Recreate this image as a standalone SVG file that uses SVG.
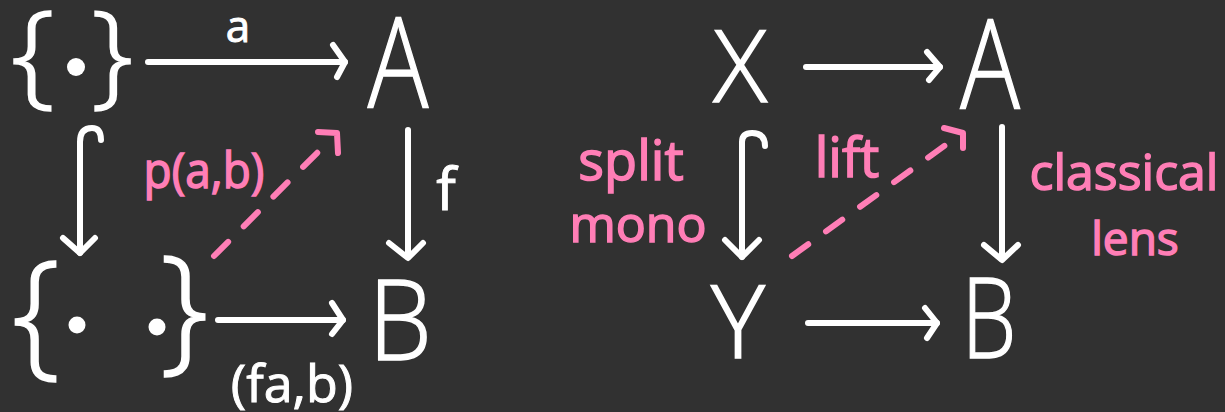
<svg xmlns="http://www.w3.org/2000/svg" width="1225" height="412" viewBox="0 0 1225 412">
<style>
.bg{fill:#313131}
.big{font-family:"Open Sans","DejaVu Sans",sans-serif;font-weight:300;fill:#ffffff;stroke:#ffffff;stroke-width:1.5;text-anchor:middle}
.lbl{font-family:"Open Sans","DejaVu Sans",sans-serif;font-weight:400;fill:#ffffff;stroke:#ffffff;stroke-width:1;text-anchor:middle}
.pk{font-family:"Open Sans","DejaVu Sans",sans-serif;font-weight:400;fill:#ff7eb6;stroke:#ff7eb6;stroke-width:1.5;text-anchor:middle}
.ln{fill:none;stroke:#ffffff;stroke-width:6;stroke-linecap:round;stroke-linejoin:round}
.dash{fill:none;stroke:#ff7eb6;stroke-width:6;stroke-linecap:round;stroke-dasharray:20 22}
.hd{fill:none;stroke:#ffffff;stroke-width:6;stroke-linecap:round;stroke-linejoin:round}
.hdp{fill:none;stroke:#ff7eb6;stroke-width:6;stroke-linecap:round;stroke-linejoin:round}
.dot{fill:#ffffff}
</style>
<rect class="bg" x="0" y="0" width="1225" height="412"/>

<g id="pt">
<text class="big" transform="translate(33,93) scale(1.1,1)" font-size="114">{</text>
<circle class="dot" cx="76" cy="67" r="9"/>
<text class="big" transform="translate(112,93) scale(1.05,1)" font-size="114">}</text>
</g>
<g id="A1"><text class="big" transform="translate(398,108) scale(0.8,1)" font-size="126">A</text></g>
<g id="two">
<text class="big" transform="translate(36,360)" font-size="138">{</text>
<circle class="dot" cx="77" cy="325" r="8.5"/>
<circle class="dot" cx="157" cy="327" r="8.5"/>
<text class="big" transform="translate(184,355)" font-size="138">}</text>
</g>
<g id="B1"><text class="big" transform="translate(400,360) scale(0.9,1)" font-size="112">B</text></g>

<g id="X"><text class="big" transform="translate(740,102)" font-size="100">X</text></g>
<g id="A2"><text class="big" transform="translate(990,108) scale(0.8,1)" font-size="124">A</text></g>
<g id="Y"><text class="big" transform="translate(738,358)" font-size="102">Y</text></g>
<g id="B2"><text class="big" transform="translate(989,358) scale(0.78,1)" font-size="112">B</text></g>

<g id="connectors">
<path class="ln" d="M148 62 H345"/>
<path class="hd" d="M333 45 L345 62 L337 77"/>
<path class="ln" d="M80 253 V142 Q80 128 92 128 Q101 128 101 140"/>
<path class="hd" d="M63 238 L80 253 L95 238"/>
<path class="ln" d="M408 130 V257"/>
<path class="hd" d="M389 243 L408 258 L423 243"/>
<path class="ln" d="M218 320 H343"/>
<path class="hd" d="M332 303 L343 320 L332 334"/>
<path class="dash" d="M214 256 L332 138"/>
<path class="hdp" d="M318 132 L337 133 L338 153"/>

<path class="ln" d="M806 67 H940"/>
<path class="hd" d="M927 52 L940 67 L929 80"/>
<path class="ln" d="M742 257 V142 Q742 133 752 133 Q765 133 765 146"/>
<path class="hd" d="M725 240 L742 257 L759 240"/>
<path class="ln" d="M1002 127 V259"/>
<path class="hd" d="M984 245 L1002 260 L1018 245"/>
<path class="ln" d="M808 323 H937"/>
<path class="hd" d="M925 308 L937 323 L927 338"/>
<path class="dash" d="M792 256 L958 136"/>
<path class="hdp" d="M944 128 L963 133 L963 148"/>
</g>

<g id="labels">
<text class="lbl" transform="translate(238,42)" font-size="44">a</text>
<text class="lbl" transform="translate(446,210)" font-size="58">f</text>
<text class="lbl" transform="translate(292,402)" font-size="52">(fa,b)</text>
<text class="pk" transform="translate(204,188) scale(0.92,1)" font-size="50">p(a,b)</text>
<text class="pk" transform="translate(631,180)" font-size="54">split</text>
<text class="pk" transform="translate(638,242)" font-size="50">mono</text>
<text class="pk" transform="translate(847,177)" font-size="54">lift</text>
<text class="pk" transform="translate(1124,190)" font-size="50">classical</text>
<text class="pk" transform="translate(1135,255)" font-size="46">lens</text>
</g>
</svg>
